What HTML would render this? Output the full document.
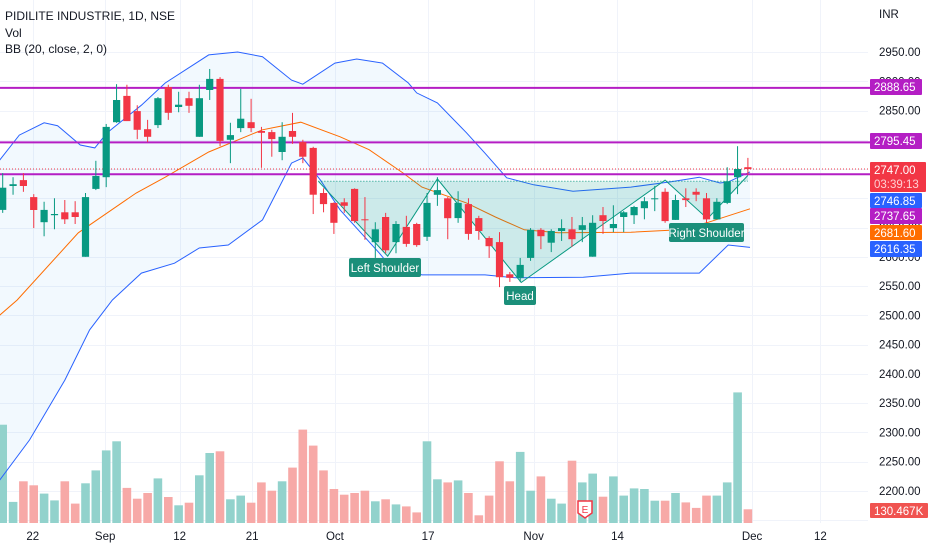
<!DOCTYPE html>
<html><head><meta charset="utf-8">
<style>
html,body{margin:0;padding:0;background:#fff;}
#wrap{position:relative;width:932px;height:550px;overflow:hidden;font-family:"Liberation Sans",sans-serif;}
svg text{font-family:"Liberation Sans",sans-serif;}
</style></head>
<body>
<div id="wrap">
<svg id="chart" width="932" height="550" xmlns="http://www.w3.org/2000/svg"></svg>
</div>
<script>
// ---- data ----
const opens =  [2680,2721,2731,2702,2659,2671,2676,2676,2600,2716,2736,2830,2875,2849,2818,2825,2890,2856,2871,2805,2885,2904,2800,2820,2830,2815,2813,2779,2815,2796,2786,2709,2692,2693,2716,2664,2625,2668,2625,2651,2656,2634,2706,2700,2666,2690,2666,2632,2625,2570,2564,2598,2646,2624,2644,2647,2646,2600,2671,2649,2668,2671,2683,2699,2711,2663,2700,2711,2700,2664,2692,2736,2753];
const highs =  [2743,2736,2743,2707,2694,2700,2697,2695,2709,2764,2827,2895,2894,2859,2834,2873,2894,2882,2882,2894,2921,2907,2829,2887,2870,2822,2817,2830,2846,2800,2788,2717,2693,2700,2717,2702,2659,2675,2661,2670,2658,2709,2736,2702,2712,2700,2670,2635,2642,2574,2598,2649,2649,2647,2664,2668,2668,2671,2685,2688,2678,2687,2702,2721,2717,2706,2717,2717,2709,2700,2753,2789,2769];
const lows =   [2675,2706,2711,2649,2635,2647,2656,2656,2600,2714,2719,2829,2832,2801,2796,2820,2834,2847,2846,2805,2868,2789,2760,2813,2813,2752,2771,2765,2793,2760,2673,2676,2639,2675,2658,2629,2598,2606,2606,2617,2617,2627,2687,2630,2658,2629,2629,2598,2548,2557,2557,2593,2613,2608,2627,2617,2625,2600,2639,2642,2642,2656,2664,2678,2658,2663,2685,2695,2654,2664,2690,2707,2740];
const closes = [2718,2724,2721,2680,2680,2673,2664,2668,2702,2738,2822,2868,2832,2817,2805,2871,2846,2860,2858,2871,2904,2798,2808,2836,2820,2812,2801,2805,2805,2771,2706,2690,2658,2687,2661,2663,2647,2611,2656,2622,2620,2692,2714,2666,2692,2639,2644,2618,2565,2564,2586,2646,2635,2644,2649,2630,2654,2658,2661,2656,2676,2685,2695,2700,2661,2697,2697,2706,2664,2694,2729,2750,2750];
const volumes = [934,200,396,358,279,215,396,184,377,500,690,776,333,231,285,424,247,168,193,453,665,681,225,260,193,386,307,396,526,887,735,500,323,269,285,307,206,225,177,158,101,776,415,386,405,285,73,260,586,396,675,307,443,231,184,592,386,469,250,443,260,329,323,212,212,285,196,143,260,260,386,1241,130];
const bbUpperIdx = [-0.3,1.6,4,5.3,7.5,8.9,10.1,13.4,15.7,19.9,22.7,25.1,27.9,29,32.1,34.2,36.7,39.2,40,42,44.8,46.6,48.7,51.3,55.1,60.7,64.5,67.3,69.3,70.1,72.2];
const bbUpper =    [2765,2808,2829,2824,2791,2786,2812,2859,2897,2945,2950,2942,2902,2895,2931,2938,2931,2897,2880,2863,2812,2777,2735,2723,2712,2719,2728,2736,2726,2728,2745];
const bbLowerIdx = [-0.3,2.6,6,8.4,10.6,13.4,16.6,19,21.8,25.1,27.9,29,30.7,32.6,36.4,37.2,40.5,46.6,49.5,56.1,60.7,67.3,70.1,72.2];
const bbLower =    [2218,2287,2389,2475,2526,2572,2589,2615,2620,2663,2760,2769,2731,2680,2606,2589,2569,2569,2564,2565,2572,2572,2620,2616];
const bbMidIdx = [-0.3,1.4,7.3,12.9,15.7,19.9,25.1,28.8,32.6,35.4,38.7,40.5,44.8,47.6,50.4,53.7,60.7,65.4,68.2,72.2];
const bbMid =    [2500,2526,2641,2709,2736,2779,2817,2830,2805,2783,2743,2719,2692,2668,2646,2641,2642,2646,2659,2682];
const priceTicks = [2950,2900,2850,2800,2750,2700,2650,2600,2550,2500,2450,2400,2350,2300,2250,2200,2150];
const dateLabels = ["22","Sep","12","21","Oct","17","Nov","14","Dec","12"];
const dateIdx = [2.9,9.9,17.1,24.1,32.1,41.1,51.3,59.4,72.4,79.0];
const hLevels = [2888.65,2795.45,2741];
const patternIdx = [30.5,37.2,42,50.1,64,68.1,72];
const patternPrice = [2729,2601,2733,2556,2731,2665,2739];
const neckline = 2729;

// ---- scales ----
const X0 = 2.7, DX = 10.35;
function xs(i){return X0 + DX*i;}
function ys(p){return 52 + (2950-p)*0.585;}
const VBASE = 523, VK = 9.5;
function vh(v){return v/VK;}
const PLOT_W = 868;

const svg = document.getElementById('chart');
const NS = 'http://www.w3.org/2000/svg';
function mk(tag, attrs, parent){const e=document.createElementNS(NS,tag);for(const k in attrs)e.setAttribute(k,attrs[k]);(parent||svg).appendChild(e);return e;}

// grid
const grid = mk('g',{});


priceTicks.forEach(p=>{const y=Math.round(ys(p))+0.5;mk('line',{x1:0,x2:PLOT_W,y1:y,y2:y,stroke:'#f0f3fa','stroke-width':1},grid);});
dateIdx.forEach(i=>{const x=Math.round(xs(i))+0.5;mk('line',{x1:x,x2:x,y1:0,y2:523,stroke:'#f0f3fa','stroke-width':1},grid);});

// bands
function pts(idx,vals){return idx.map((i,k)=>xs(i).toFixed(1)+','+ys(vals[k]).toFixed(1));}
const up = pts(bbUpperIdx,bbUpper), lo = pts(bbLowerIdx,bbLower);
const fill = mk('polygon',{points:up.concat(lo.slice().reverse()).join(' '),fill:'rgba(33,150,243,0.06)'});



// volumes
const volG = mk('g',{});


volumes.forEach((v,i)=>{
  const h=vh(v);const up=closes[i]>=opens[i];
  const r=mk('rect',{x:(xs(i)-4.3).toFixed(1),y:(VBASE-h).toFixed(1),width:8.6,height:h.toFixed(1),fill:up?'#92d2cc':'#f7a9a7'},volG);
  
  
});

// band lines
const ul = mk('polyline',{points:up.join(' '),fill:'none',stroke:'#2962ff','stroke-width':1});


const ll = mk('polyline',{points:lo.join(' '),fill:'none',stroke:'#2962ff','stroke-width':1});


const ml = mk('polyline',{points:pts(bbMidIdx,bbMid).join(' '),fill:'none',stroke:'#ff6d00','stroke-width':1});



// pattern fill
const nY = ys(neckline);
const pp = patternIdx.map((i,k)=>[xs(i),ys(patternPrice[k])]);
const pf = mk('polygon',{points:[[pp[0][0],nY]].concat(pp).concat([[pp[pp.length-1][0],nY]]).map(p=>p[0].toFixed(1)+','+p[1].toFixed(1)).join(' '),fill:'rgba(8,153,129,0.16)'});


const nl = mk('line',{x1:pp[0][0],x2:pp[pp.length-1][0],y1:nY,y2:nY,stroke:'#089981','stroke-width':1,'stroke-dasharray':'1,2'});


const pl = mk('polyline',{points:pp.map(p=>p[0].toFixed(1)+','+p[1].toFixed(1)).join(' '),fill:'none',stroke:'#089981','stroke-width':1});



// horizontal levels
hLevels.forEach(p=>{
  const y=ys(p);
  const l=mk('line',{x1:0,x2:870,y1:y,y2:y,stroke:'#b41ec4','stroke-width':2});
  
  
});
// current price dotted
const cy = ys(closes[closes.length-1]);
const cl = mk('line',{x1:0,x2:870,y1:cy,y2:cy,stroke:'#f23645','stroke-width':1,'stroke-dasharray':'1,2'});



// candles
const cg = mk('g',{});


opens.forEach((o,i)=>{
  const c=closes[i];const col=c>=o?'#089981':'#f23645';const x=xs(i);
  const w=mk('line',{x1:x,x2:x,y1:ys(highs[i]),y2:ys(lows[i]),stroke:col,'stroke-width':1},cg);
  
  
  const t=ys(Math.max(o,c)),b=ys(Math.min(o,c));
  const r=mk('rect',{x:(x-3.6).toFixed(1),y:t.toFixed(1),width:7.2,height:Math.max(1,b-t).toFixed(1),fill:col},cg);
  
  
});

// pattern labels
function tag(x,y,w,h,txt,name){
  const g=mk('g',{});
  
  
  mk('rect',{x:x,y:y,width:w,height:h,rx:2,fill:'#1b8f7a'},g);
  const t=mk('text',{x:x+w/2,y:y+h-5,'text-anchor':'middle','font-size':11.5,fill:'#fff'},g);
  t.textContent=txt;
}
tag(349,258,72,19,'Left Shoulder','left-shoulder-label');
tag(504,286,32,19,'Head','head-label');
tag(669,223,75,19,'Right Shoulder','right-shoulder-label');

// earnings marker
const eg = mk('g',{});


mk('path',{d:'M578,501 h14 v12 l-7,5 l-7,-5 z',fill:'#fff',stroke:'#f23645','stroke-width':1.5},eg);
const et=mk('text',{x:585,y:513,'text-anchor':'middle','font-size':10,fill:'#f23645'},eg);
et.textContent='E';

// axis labels
const ax = mk('g',{});


const inr=mk('text',{x:879,y:18,'font-size':11.5,fill:'#131722'},ax);inr.textContent='INR';
priceTicks.forEach(p=>{
  if(p===2150) return;
  const t=mk('text',{x:879,y:ys(p)+4,'font-size':11.5,fill:'#131722'},ax);
  t.textContent=p.toFixed(2);
  
  
});
function plabel(y,h,txt,bg,name,w){
  const g=mk('g',{});
  
  
  mk('rect',{x:870,y:y,width:w||52,height:h,rx:1,fill:bg},g);
  const t=mk('text',{x:874,y:y+12,'font-size':11.5,fill:'#fff'},g);t.textContent=txt;
  return g;
}
plabel(79,16,'2888.65','#b41ec4','level-label-2888');
plabel(133,16,'2795.45','#b41ec4','level-label-2795');
const g1=plabel(162,30,'2747.00','#f23645','last-price-label',56);
const ct=mk('text',{x:874,y:188,'font-size':11.5,fill:'#ffd0d3'},g1);ct.textContent='03:39:13';
plabel(193,15,'2746.85','#2962ff','bb-upper-label');
plabel(208,16,'2737.65','#b41ec4','level-label-2737');
plabel(225,15,'2681.60','#ff6d00','bb-basis-label');
plabel(241,16,'2616.35','#2962ff','bb-lower-label');
plabel(503,15,'130.467K','#f05350','volume-label',58);

const xa = mk('g',{});


dateLabels.forEach((d,k)=>{
  const t=mk('text',{x:xs(dateIdx[k]),y:540,'text-anchor':'middle','font-size':11.5,fill:'#131722'},xa);
  t.textContent=d;
  
  
});

// legend
const lg = mk('g',{});


[['PIDILITE INDUSTRIE, 1D, NSE',20],['Vol',37],['BB (20, close, 2, 0)',53]].forEach(([s,y])=>{
  const t=mk('text',{x:5,y:y,'font-size':12,fill:'#131722'},lg);t.textContent=s;
});
</script>
</body></html>
